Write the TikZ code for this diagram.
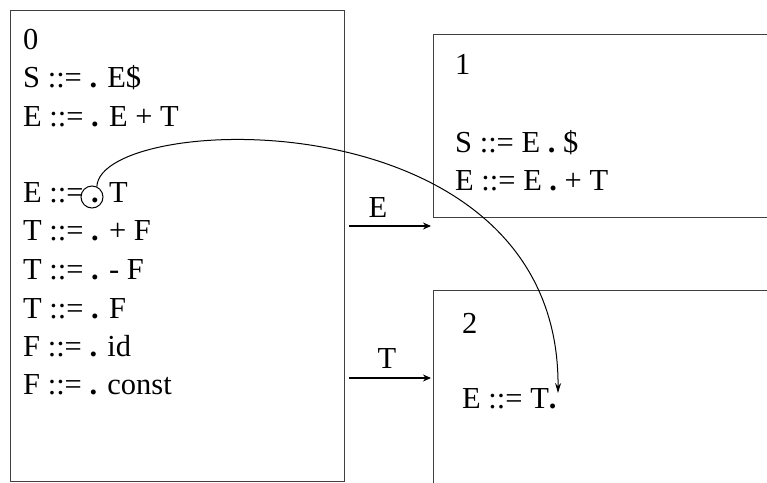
\documentclass[tikz,border=0pt]{standalone}
\usepackage{fontspec}
\setmainfont{Liberation Serif}
\usetikzlibrary{arrows.meta, positioning}
\definecolor{cFrame}{RGB}{64,64,64}
\tikzset{
    statebox/.style={rectangle, draw=cFrame, line width=1.3pt, anchor=north west, inner sep=0pt},
    item/.style={anchor=base west, inner sep=0pt, font=\fontsize{30.5}{36}\selectfont},
    shiftarrow/.style={-{Stealth[length=8pt, width=7pt]}, line width=2pt},
    gotoarrow/.style={-{Stealth[length=10pt, width=6pt]}, line width=1pt},
}
\newcommand{\itemdot}{\textbf{.}}

\begin{document}
\begin{tikzpicture}[x=1pt, y=-1pt]
        \useasboundingbox (0,0) rectangle (767,482);
        \begin{scope}
            \clip (0,0) rectangle (767,482);
            % states
            \node[statebox, minimum width=334pt, minimum height=471pt] (s0) at (10,10) {};
            \node[statebox, minimum width=360pt, minimum height=183pt] (s1) at (433,34) {};
            \node[statebox, minimum width=360pt, minimum height=220pt] (s2) at (433,290) {};
        \end{scope}

        % state 0 items
        \node[item] (n0) at (23,49) {0};
        \node[item] (i0a) at (23,87) {S ::= \itemdot{} E\$};
        \node[item] (i0b) at (23,126) {E ::= \itemdot{} E + T};
        \node[item] (i0c) at (23,202) {E ::= \itemdot{} T};
        \node[item] (i0d) at (23,240) {T ::= \itemdot{} + F};
        \node[item] (i0e) at (23,279) {T ::= \itemdot{} - F};
        \node[item] (i0f) at (23,318) {T ::= \itemdot{} F};
        \node[item] (i0g) at (23,356) {F ::= \itemdot{} id};
        \node[item] (i0h) at (23,394) {F ::= \itemdot{} const};

        % state 1 items
        \node[item] (n1) at (455,74) {1};
        \node[item] (i1a) at (455,152) {S ::= E \itemdot{} \$};
        \node[item] (i1b) at (455,190) {E ::= E \itemdot{} + T};

        % state 2 items
        \node[item] (n2) at (462,333) {2};
        \node[item] (i2a) at (462,408) {E ::= T\itemdot};

        % transitions
        \coordinate (eTail) at (349,226);
        \coordinate (eHead) at (431,226);
        \coordinate (tTail) at (349,378);
        \coordinate (tHead) at (431,378);
        \draw[shiftarrow] (eTail) -- (eHead);
        \draw[shiftarrow] (tTail) -- (tHead);
        \node[item, anchor=base] (eLabel) at (378,217) {E};
        \node[item, anchor=base] (tLabel) at (387,368) {T};

        % marked dot moves
        \node[draw, circle, line width=1pt, minimum size=22pt, inner sep=0pt] (mark) at (92,197) {};
        \coordinate (markEnd) at (558,393);
        \draw[gotoarrow] (mark.65) .. controls +(3,-75) and +(2,-300) .. (markEnd);
    \end{tikzpicture}
\end{document}
